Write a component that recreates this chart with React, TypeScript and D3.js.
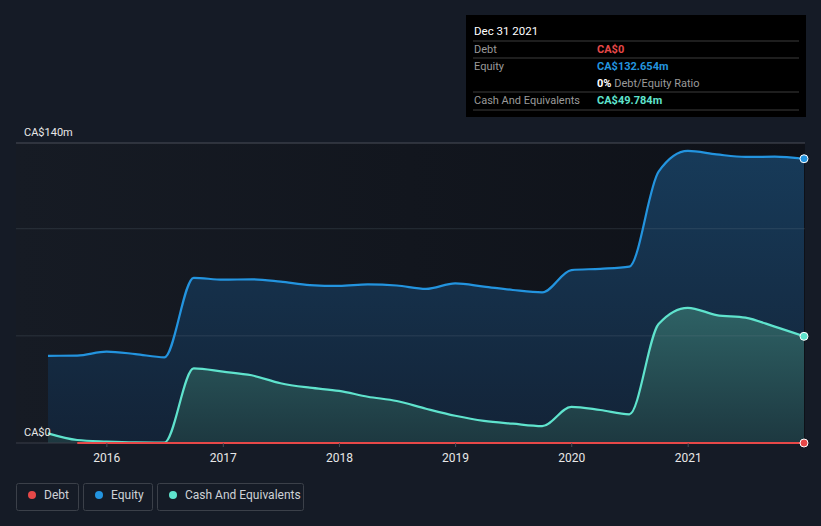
import React from "react";
import * as d3 from "d3";

const dates: string[] = [
  "2015-06-30","2015-09-30","2015-12-31","2016-03-31","2016-06-30","2016-09-30","2016-12-31",
  "2017-03-31","2017-06-30","2017-09-30","2017-12-31","2018-03-31","2018-06-30","2018-09-30",
  "2018-12-31","2019-03-31","2019-06-30","2019-09-30","2019-12-31","2020-03-31","2020-06-30",
  "2020-09-30","2020-12-31","2021-03-31","2021-06-30","2021-09-30","2021-12-31",
];
const equity: number[] = [
  40.7, 40.8, 42.6, 41.5, 40.0, 77.1, 76.2, 76.4, 75.3, 73.7, 73.3, 74.0, 73.5, 71.9,
  74.5, 73.0, 71.4, 70.3, 80.7, 81.3, 82.3, 126.6, 136.3, 134.7, 133.5, 133.6, 132.654,
];
const cash: number[] = [
  4.5, 1.4, 0.7, 0.3, 0.2, 34.8, 33.3, 31.6, 27.9, 25.8, 24.3, 21.6, 19.6, 16.0,
  12.7, 10.3, 9.0, 7.9, 16.9, 15.4, 13.4, 55.5, 63.1, 59.7, 58.5, 54.3, 49.784,
];
const debt: (number | null)[] = [
  null, 0, 0, 0, 0, 0, 0, 0, 0, 0, 0, 0, 0, 0, 0, 0, 0, 0, 0, 0, 0, 0, 0, 0, 0, 0, 0,
];
const yearTicks: number[] = [2016, 2017, 2018, 2019, 2020, 2021];
const gridValues: number[] = [0, 50, 100, 140];

const W = 821, H = 526;
const PL = 16, PR = 805, PT = 143, PB = 443;
const C_EQ = "#2394df", C_CASH = "#5fe3cd", C_DEBT = "#e64848";
const FONT = "Roboto, 'Open Sans', sans-serif";

export default function App() {
  const parsed = dates.map((d) => new Date(d + "T00:00:00"));
  const x = d3.scaleTime().domain([parsed[0], parsed[parsed.length - 1]]).range([48, 804]);
  const y = d3.scaleLinear().domain([0, 140]).range([PB, PT]);
  const idx = d3.range(dates.length);

  const line = (vals: (number | null)[]) =>
    d3.line<number>()
      .defined((i) => vals[i] !== null)
      .x((i) => x(parsed[i]))
      .y((i) => y(vals[i] as number))
      .curve(d3.curveMonotoneX)(idx) || "";
  const area = (vals: number[]) =>
    d3.area<number>()
      .x((i) => x(parsed[i]))
      .y0(y(0))
      .y1((i) => y(vals[i]))
      .curve(d3.curveMonotoneX)(idx) || "";

  const last = dates.length - 1;
  const legend = [
    { label: "Debt", color: C_DEBT, x: 16, w: 62 },
    { label: "Equity", color: C_EQ, x: 83, w: 69 },
    { label: "Cash And Equivalents", color: C_CASH, x: 157, w: 146 },
  ];

  return (
    <svg width={W} height={H} style={{ position: "absolute", left: 0, top: 0, fontFamily: FONT }}>
      <defs>
        <linearGradient id="bgPlot" x1="0" y1="0" x2="1" y2="0">
          <stop offset="0" stopColor="#161b24" />
          <stop offset="1" stopColor="#0e1118" />
        </linearGradient>
        <linearGradient id="eqFill" x1="0" y1={PT} x2="0" y2={PB} gradientUnits="userSpaceOnUse">
          <stop offset="0" stopColor="#173b5a" />
          <stop offset="1" stopColor="#132337" />
        </linearGradient>
        <linearGradient id="cashFill" x1="0" y1={300} x2="0" y2={PB} gradientUnits="userSpaceOnUse">
          <stop offset="0" stopColor="#2f6467" />
          <stop offset="1" stopColor="#1d3840" />
        </linearGradient>
      </defs>
      <rect x={0} y={0} width={W} height={H} fill="#151b26" />
      <rect x={PL} y={PT} width={PR - PL} height={PB - PT} fill="url(#bgPlot)" />

      <path d={area(equity)} fill="url(#eqFill)" />
      <path d={area(cash)} fill="url(#cashFill)" />

      {gridValues.map((v) => (
        <line key={v} x1={PL} x2={PR} y1={y(v)} y2={y(v)}
          stroke={v === 140 ? "#4a4f58" : v === 0 ? "#3a3f48" : "rgba(120,130,145,0.22)"} strokeWidth={1} />
      ))}

      <path d={line(equity)} fill="none" stroke={C_EQ} strokeWidth={2.2} />
      <path d={line(cash)} fill="none" stroke={C_CASH} strokeWidth={2.2} />
      <path d={line(debt)} fill="none" stroke={C_DEBT} strokeWidth={2} />

      {yearTicks.map((yr) => {
        const xp = x(new Date(yr, 0, 1));
        return (
          <g key={yr}>
            <line x1={xp} x2={xp} y1={PB} y2={PB + 4} stroke="#4a4f58" />
            <text x={xp} y={462} textAnchor="middle" fill="#e8e8e8" fontSize={12}>{yr}</text>
          </g>
        );
      })}

      <text x={24} y={136} fill="#e8e8e8" fontSize={11}>CA$140m</text>
      <text x={24} y={436} fill="#e8e8e8" fontSize={11}>CA$0</text>

      {[
        { v: equity[last], c: C_EQ },
        { v: cash[last], c: C_CASH },
        { v: 0, c: C_DEBT },
      ].map((p, i) => (
        <circle key={i} cx={x(parsed[last])} cy={y(p.v)} r={4} fill={p.c} stroke="#fff" strokeWidth={1} />
      ))}

      {/* tooltip */}
      <rect x={466} y={15} width={340} height={102} fill="#000" />
      <text x={474} y={35} fill="#fff" fontSize={11.5}>Dec 31 2021</text>
      {[41, 58, 92, 110].map((yy) => (
        <line key={yy} x1={473} x2={799} y1={yy} y2={yy} stroke="#3c3c3c" />
      ))}
      <text x={474} y={53} fill="#9a9a9a" fontSize={11}>Debt</text>
      <text x={597} y={53} fill={C_DEBT} fontSize={11} fontWeight={700}>CA$0</text>
      <text x={474} y={70} fill="#9a9a9a" fontSize={11}>Equity</text>
      <text x={597} y={70} fill={C_EQ} fontSize={11} fontWeight={700}>CA$132.654m</text>
      <text x={597} y={87} fontSize={11}>
        <tspan fill="#fff" fontWeight={700}>0%</tspan>
        <tspan fill="#9a9a9a"> Debt/Equity Ratio</tspan>
      </text>
      <text x={474} y={104} fill="#9a9a9a" fontSize={11}>Cash And Equivalents</text>
      <text x={597} y={104} fill={C_CASH} fontSize={11} fontWeight={700}>CA$49.784m</text>

      {legend.map((l) => (
        <g key={l.label}>
          <rect x={l.x + 0.5} y={483.5} width={l.w} height={27} rx={2} fill="none" stroke="#3b4049" />
          <circle cx={l.x + 16} cy={495} r={4} fill={l.color} />
          <text x={l.x + 28} y={499} fill="#cfd2d6" fontSize={12}>{l.label}</text>
        </g>
      ))}
    </svg>
  );
}
